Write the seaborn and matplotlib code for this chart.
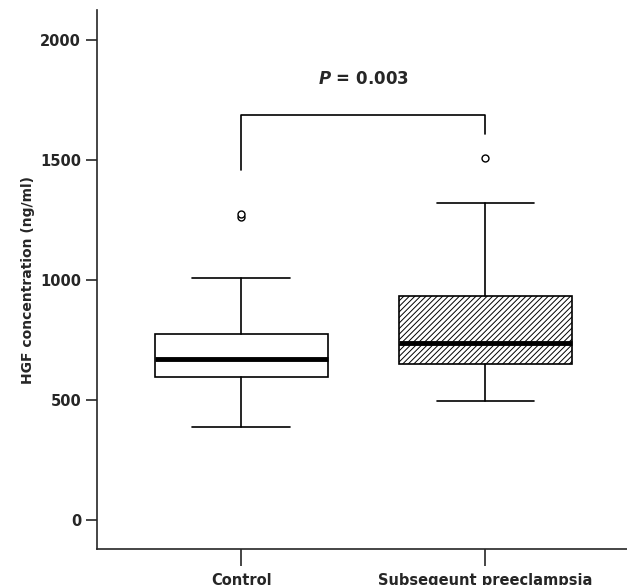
import matplotlib
matplotlib.use("Agg")
import matplotlib.pyplot as plt
import seaborn as sns

sns.set_style("ticks")
plt.rcParams['font.family'] = ['DejaVu Sans']
plt.rcParams['hatch.color'] = '#444444'
plt.rcParams['hatch.linewidth'] = 0.7

groups = ['Control', 'Subsegeunt preeclampsia']
whislo = [387, 497]
q1 = [597, 650]
med = [672, 738]
q3 = [775, 935]
whishi = [1007, 1320]
fliers = [[1262, 1275], [1510]]
p_text = '0.003'

stats = []
for i, g in enumerate(groups):
    stats.append(dict(label=g, whislo=whislo[i], q1=q1[i], med=med[i],
                      q3=q3[i], whishi=whishi[i], fliers=fliers[i]))

fig = plt.figure(figsize=(6.27, 5.85), dpi=100)
ax = fig.add_axes([0.155, 0.0615, 0.845, 0.921])

bp = ax.bxp(stats, positions=[1, 2], widths=0.71, patch_artist=True,
            boxprops=dict(linewidth=1.2, edgecolor='black'),
            medianprops=dict(color='black', linewidth=3.5),
            whiskerprops=dict(linewidth=1.2),
            capprops=dict(linewidth=1.2),
            flierprops=dict(marker='o', markerfacecolor='white',
                            markeredgecolor='black', markersize=5))
bp['boxes'][0].set_facecolor('white')
bp['boxes'][1].set_facecolor('white')
bp['boxes'][1].set_hatch('//////')
for w in bp['caps']:
    xd = w.get_xdata()
    c = (xd[0] + xd[1]) / 2
    w.set_xdata([c - 0.2, c + 0.2])

# significance bracket
ax.plot([1, 1, 2, 2], [1460, 1690, 1690, 1610], color='black', linewidth=1.2)
ax.text(1.5, 1840, r'$\mathbfit{P}$ = ' + p_text, ha='center', va='center',
        fontsize=12, fontweight='bold')

ax.set_xlim(0.41, 2.58)
ax.set_ylim(-121, 2125)
ax.set_yticks([0, 500, 1000, 1500, 2000])
ax.set_ylabel('HGF concentration (ng/ml)', fontsize=10, fontweight='bold')
ax.tick_params(axis='y', length=8, width=1.2, labelsize=10.5)
ax.tick_params(axis='x', length=12, width=1.2, labelsize=10.5, pad=5)
for lab in ax.get_xticklabels() + ax.get_yticklabels():
    lab.set_fontweight('bold')
sns.despine(ax=ax)
for s in ax.spines.values():
    s.set_linewidth(1.2)

fig.savefig('out.png', dpi=100)
